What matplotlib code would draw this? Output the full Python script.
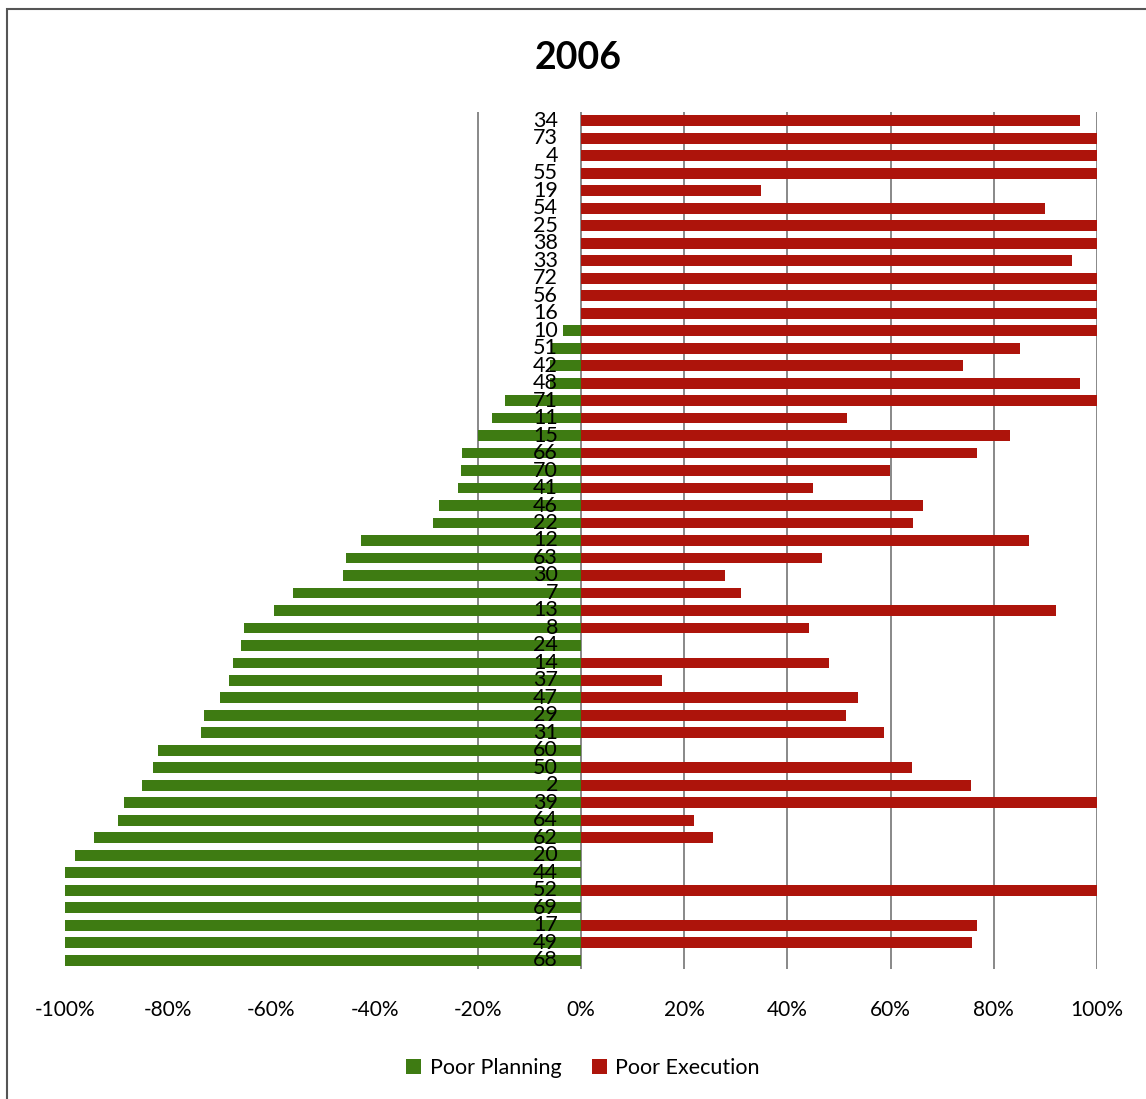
import matplotlib
import matplotlib.pyplot as plt
import matplotlib.transforms as mtransforms
from matplotlib.patches import Rectangle

matplotlib.use("Agg")

plt.rcParams["font.family"] = ["Lato", "DejaVu Sans"]

# rows from top to bottom
projects = ["34", "73", "4", "55", "19", "54", "25", "38", "33", "72", "56", "16", "10",
            "51", "42", "48", "71", "11", "15", "66", "70", "41", "46", "22", "12", "63",
            "30", "7", "13", "8", "24", "14", "37", "47", "29", "31", "60", "50", "2",
            "39", "64", "62", "20", "44", "52", "69", "17", "49", "68"]

poor_planning = [0, 0, 0, 0, 0, 0, 0, 0, 0, 0, 0, 0, -3.5,
                 -5.6, -6, -6, -14.7, -17.2, -20, -23, -23.2, -23.8, -27.5, -28.6, -42.7, -45.6,
                 -46.2, -55.9, -59.4, -65.4, -65.8, -67.5, -68.3, -70, -73.1, -73.7, -82, -83, -85.1,
                 -88.6, -89.7, -94.4, -98, -100, -100, -100, -100, -100, -100]

poor_execution = [96.7, 100, 100, 100, 34.8, 90, 100, 100, 95.2, 100, 100, 100, 100,
                  85.1, 74.1, 96.7, 100, 51.6, 83.2, 76.8, 59.8, 44.9, 66.3, 64.4, 86.8, 46.8,
                  28, 31, 92, 44.1, 0, 48, 15.7, 53.6, 51.3, 58.8, 0, 64.2, 75.6,
                  100, 21.9, 25.5, 0, 0, 100, 0, 76.8, 75.8, 0]

x_ticks = [-100, -80, -60, -40, -20, 0, 20, 40, 60, 80, 100]
grid_at = [-20, 0, 20, 40, 60, 80, 100]

GREEN = "#3e7b12"
RED = "#ad140b"

fig = plt.figure(figsize=(11.46, 10.99), dpi=100)
ax = fig.add_axes([65 / 1146, 1 - 969 / 1099, (1097 - 65) / 1146, (969 - 112) / 1099])

rows = list(range(len(projects)))
ax.barh(rows, poor_planning, height=0.62, color=GREEN, label="Poor Planning", zorder=3)
ax.barh(rows, poor_execution, height=0.62, color=RED, label="Poor Execution", zorder=3)

for g in grid_at:
    ax.axvline(g, color="#7f7f7f", lw=1.3, zorder=1)

ax.set_xlim(-100, 100)
ax.set_ylim(len(projects) - 0.5, -0.5)
ax.set_xticks(x_ticks, [f"{t}%" for t in x_ticks])
ax.set_yticks([])
ax.tick_params(axis="x", length=0, pad=22, labelsize=15)
for s in ax.spines.values():
    s.set_visible(False)

offset = mtransforms.ScaledTranslation(-23 / 100, 0, fig.dpi_scale_trans)
for i, lab in enumerate(projects):
    ax.text(0, i, lab, ha="right", va="center", fontsize=15.5, color="black",
            transform=ax.transData + offset, zorder=5)

fig.text(0.5045, 1 - 58 / 1099, "2006", ha="center", va="center",
         fontsize=27, fontweight="bold")

fig.legend(loc="center", bbox_to_anchor=(583 / 1146, 1 - 1068 / 1099), ncol=2,
           frameon=False, fontsize=15.5, handlelength=0.7, handleheight=0.7,
           handletextpad=0.4, columnspacing=1.4)

# outer chart border
fig.patches.append(Rectangle((7 / 1146, -0.05), 1.1, 1 - 9 / 1099 + 0.05,
                             transform=fig.transFigure, fill=False,
                             edgecolor="#555555", lw=1.5))

fig.savefig("out.png", dpi=100)
plt.close(fig)
